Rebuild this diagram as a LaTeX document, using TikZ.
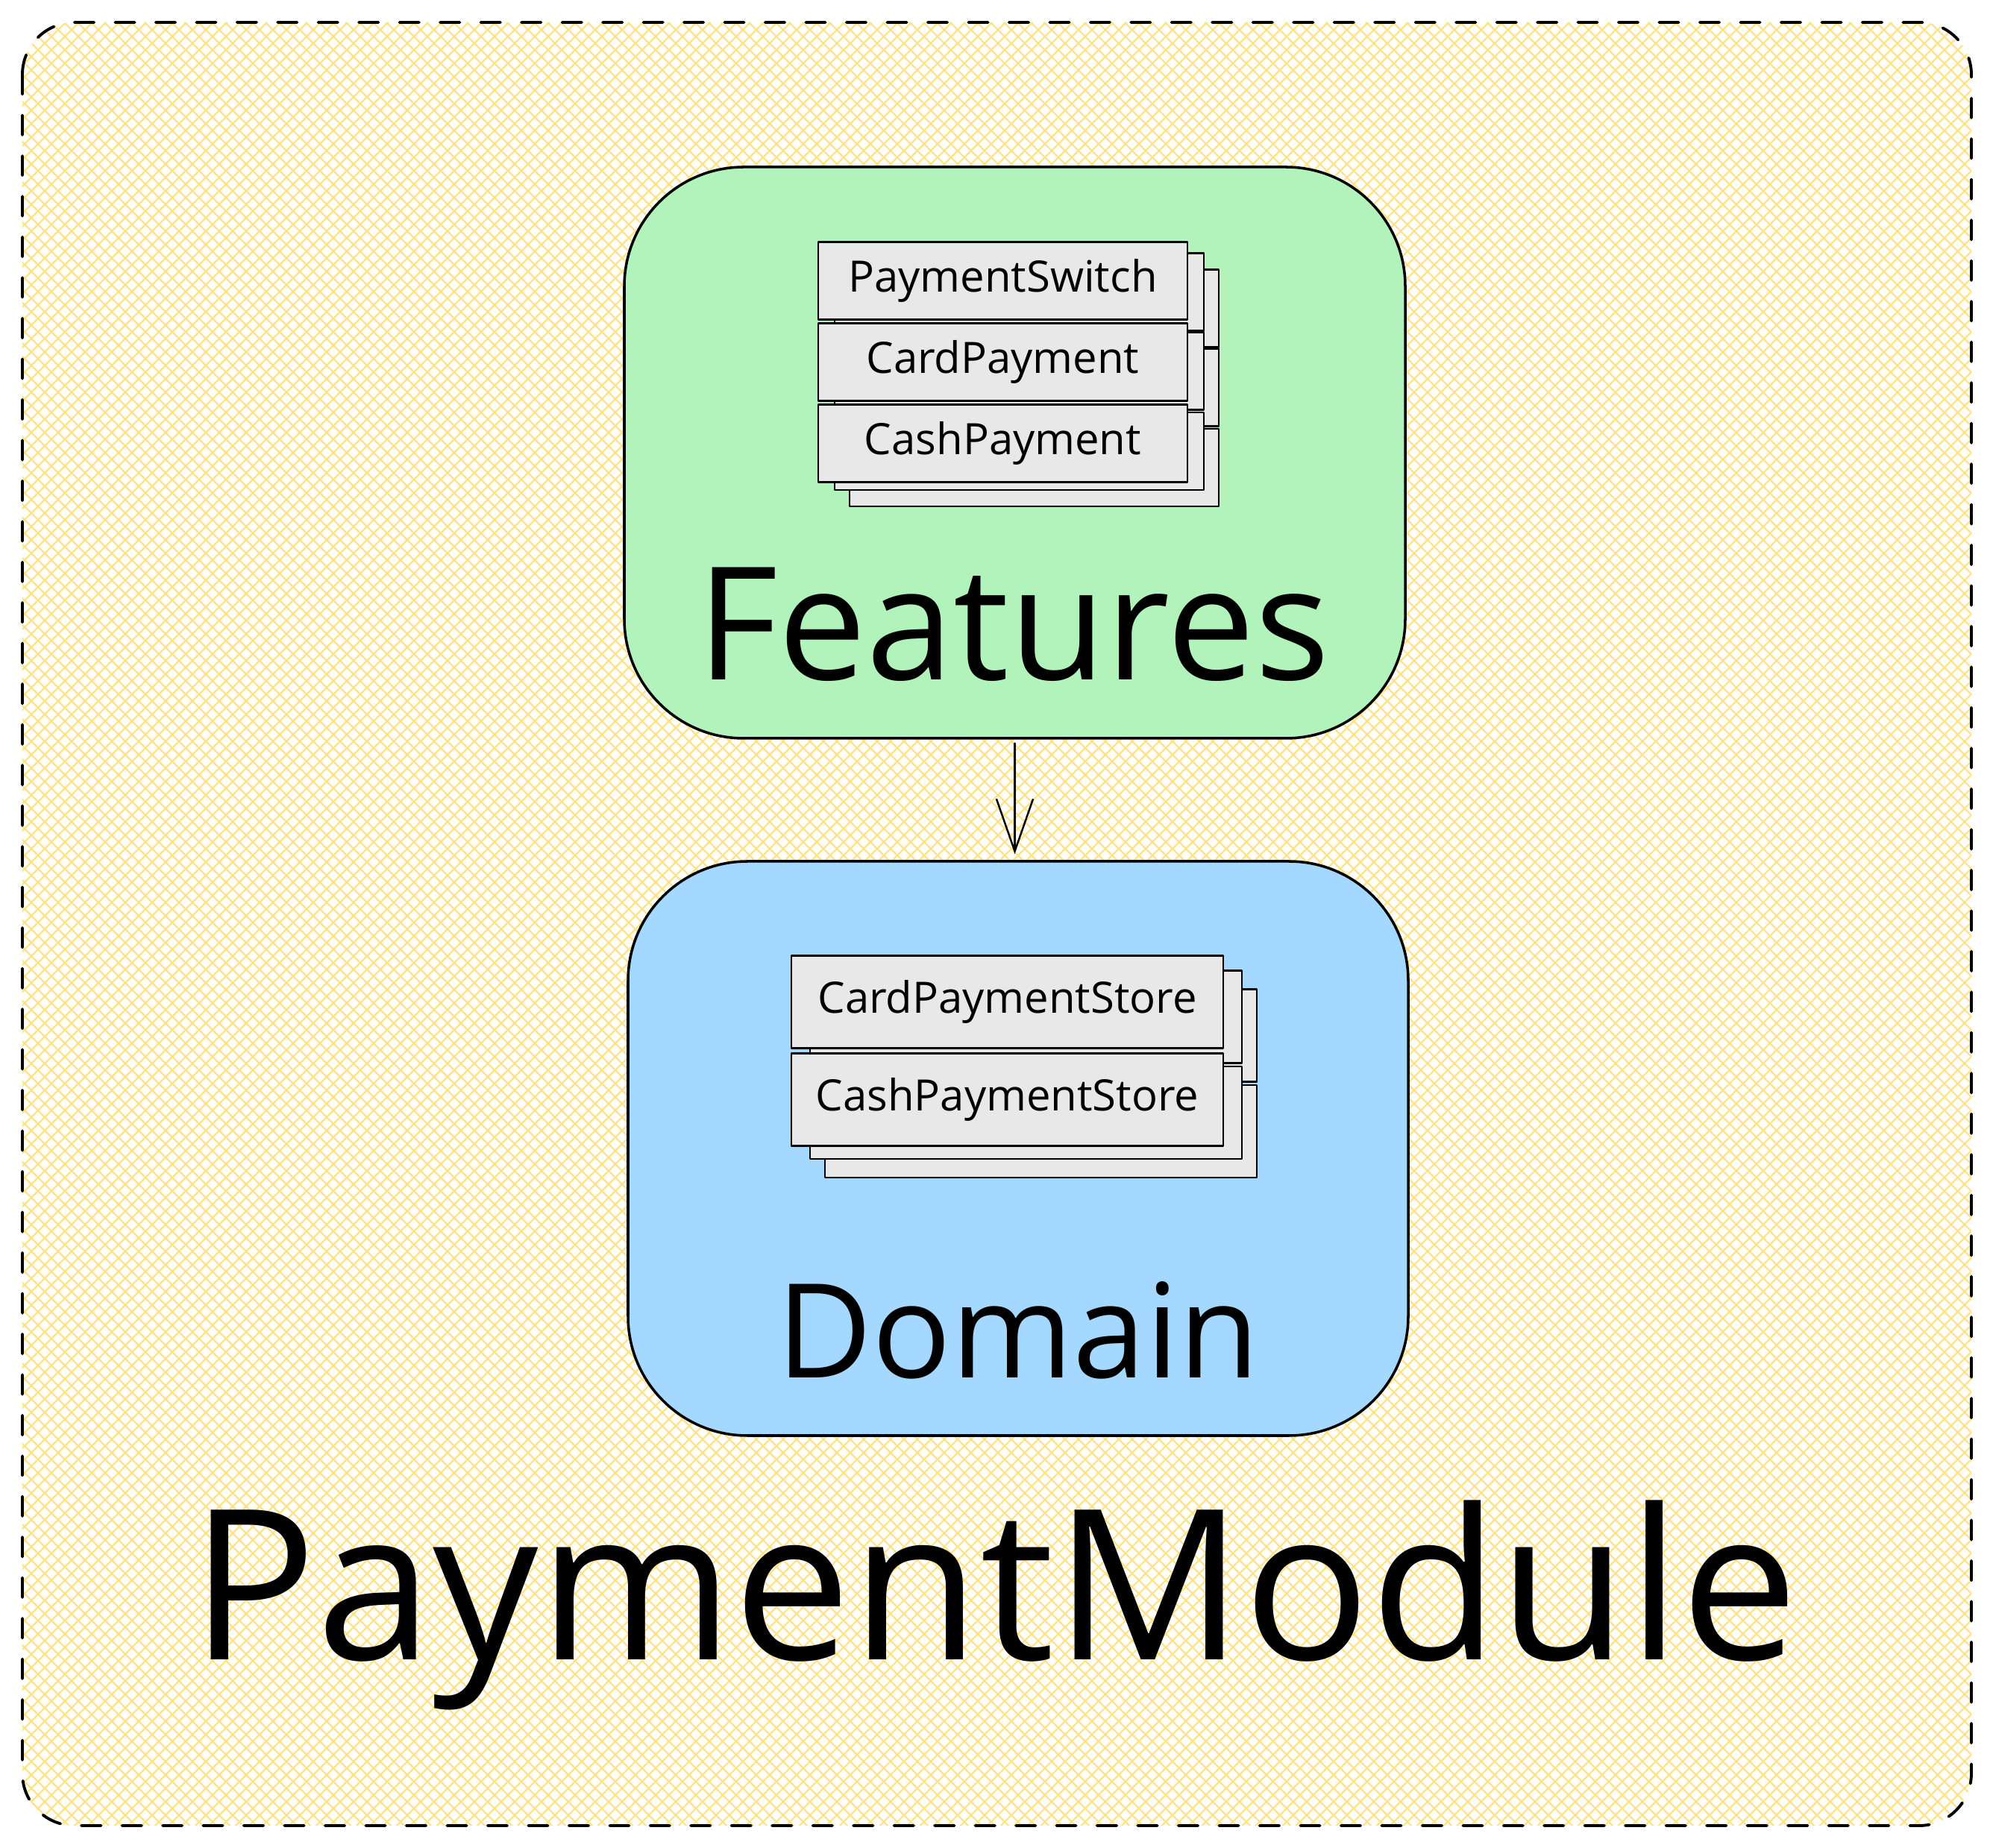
\documentclass[tikz,border=0pt]{standalone}
\usepackage{fontspec}
\setmainfont{Open Sans}
\usetikzlibrary{arrows.meta,positioning}

\definecolor{hatchyellow}{HTML}{FFE38A}
\definecolor{featgreen}{HTML}{B2F2BB}
\definecolor{domblue}{HTML}{A5D8FF}
\definecolor{cardgray}{HTML}{E8E8E8}

\begin{document}
\begin{tikzpicture}[line cap=round,line join=round,
  layerbox/.style={draw,line width=1pt,rounded corners=1.6cm,inner sep=0pt},
  card/.style={draw,fill=cardgray,line width=0.8pt,inner sep=0pt,font=\fontsize{16.5}{20}\selectfont},
  shadowcard/.style={draw,fill=cardgray,line width=0.8pt},
  hatch/.style={draw=hatchyellow,line width=0.65pt}]
  \useasboundingbox (0,0) rectangle (26.72,-24.78);
  % module frame with cross hatching
  \begin{scope}
    \clip[rounded corners=0.7cm] (0.30,-0.30) rectangle (26.43,-24.48);
    \foreach \k in {0,...,290} {
      \draw[hatch] ({-25+\k*0.18},0) -- ++(26,-26);
      \draw[hatch] ({-25+\k*0.18},-26) -- ++(26,26);
    }
  \end{scope}
  \draw[line width=1.1pt,dash pattern=on 7.5pt off 8pt,rounded corners=0.7cm] (0.30,-0.30) rectangle (26.43,-24.48);
  % layers
  \node[layerbox,fill=featgreen,minimum width=10.47cm,minimum height=7.66cm] (features) at (13.605,-6.07) {};
  \node[layerbox,fill=domblue,minimum width=10.46cm,minimum height=7.70cm] (domain) at (13.65,-15.40) {};
  \draw[line width=0.7pt,-{Straight Barb[length=20pt,width=14pt]},shorten <=0.05cm,shorten >=0.08cm]
    (features.south) -- (features.south |- domain.north);
  % feature stack
  \foreach \y in {3.765,4.825,5.90} {
    \draw[shadowcard] (11.39,-\y+0.15) rectangle ++(4.95,-1.04);
  }
  \foreach \y in {3.765,4.825,5.90} {
    \draw[shadowcard] (11.19,-\y+0.37) rectangle ++(4.95,-1.04);
  }
  \node[card,minimum width=4.95cm,minimum height=1.04cm] (pSwitch) at (13.445,-3.765) {PaymentSwitch};
  \node[card,minimum width=4.95cm,minimum height=1.04cm,below=0.02cm of pSwitch] (pCard) {CardPayment};
  \node[card,minimum width=4.95cm,minimum height=1.04cm,below=0.02cm of pCard] (pCash) {CashPayment};
  % domain stack
  \foreach \y in {13.435,14.72} {
    \draw[shadowcard] (11.06,-\y+0.17) rectangle ++(5.79,-1.24);
  }
  \foreach \y in {13.435,14.72} {
    \draw[shadowcard] (10.86,-\y+0.42) rectangle ++(5.79,-1.24);
  }
  \node[card,minimum width=5.79cm,minimum height=1.24cm] (sCard) at (13.505,-13.435) {CardPaymentStore};
  \node[card,minimum width=5.79cm,minimum height=1.24cm,below=0.04cm of sCard] (sCash) {CashPaymentStore};
  % labels
  \node[anchor=base,inner sep=0pt,font=\fontsize{60}{64}\selectfont] (featLabel) at (13.59,-9.12) {Features};
  \node[anchor=base,inner sep=0pt,font=\fontsize{50}{54}\selectfont] (domLabel) at (13.65,-18.47) {Domain};
  \node[anchor=base,inner sep=0pt,font=\fontsize{80}{84}\selectfont] (modLabel) at (13.33,-22.25) {PaymentModule};
\end{tikzpicture}
\end{document}
